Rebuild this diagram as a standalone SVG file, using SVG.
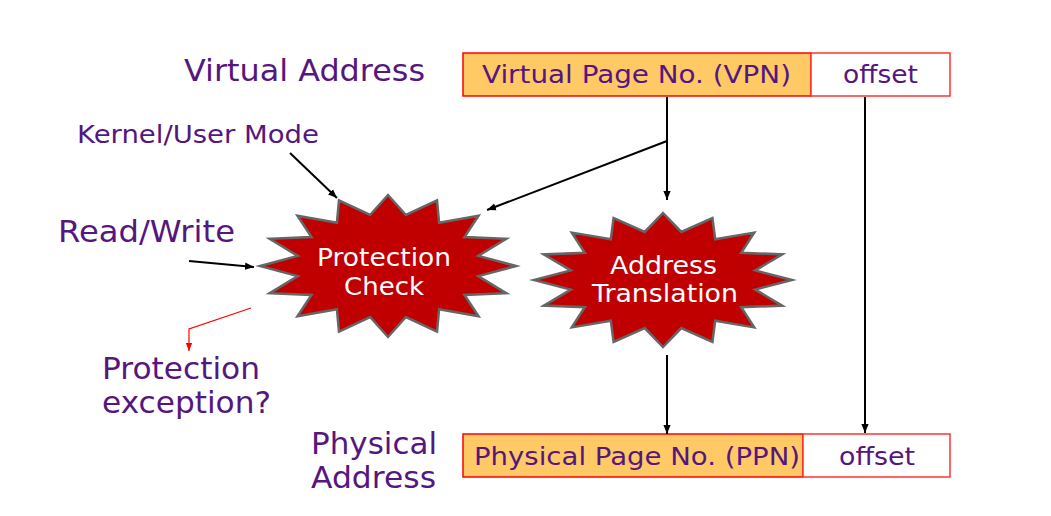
<svg xmlns="http://www.w3.org/2000/svg" width="1051" height="516" viewBox="0 0 1051 516">
<style>
.lbl{font-family:"DejaVu Sans","Liberation Sans",sans-serif;fill:#56167F}
.big{font-size:30px}
.mid{font-size:25px}
.star{fill:#C00000;stroke:#666666;stroke-width:2.5;stroke-linejoin:miter}
.st{font-family:"DejaVu Sans","Liberation Sans",sans-serif;font-size:25px;fill:#FFFFFF}
.bt{font-family:"DejaVu Sans","Liberation Sans",sans-serif;font-size:25px;fill:#56167F}
.ln{stroke:#000;stroke-width:2;fill:none}
.pg{fill:#FFC966;stroke:#FF0000;stroke-width:1.5}
.of{fill:#FFFFFF;stroke:#FF3333;stroke-width:1.5}
</style>
<defs>
<marker id="ah" markerUnits="userSpaceOnUse" markerWidth="9" markerHeight="9" viewBox="0 0 10 10" refX="10" refY="5" orient="auto">
<path d="M0,1 L10,5 L0,9 Z" fill="#000"/>
</marker>
<marker id="ahr" markerUnits="userSpaceOnUse" markerWidth="8" markerHeight="8" viewBox="0 0 10 10" refX="10" refY="5" orient="auto">
<path d="M0,1 L10,5 L0,9 Z" fill="#FF0000"/>
</marker>
</defs>
<rect width="1051" height="516" fill="#FFFFFF"/>

<g id="virtual-address-label"><text class="lbl big" x="184" y="81" textLength="241" lengthAdjust="spacingAndGlyphs">Virtual Address</text></g>
<g id="kernel-user-label"><text class="lbl mid" x="77" y="143" textLength="242" lengthAdjust="spacingAndGlyphs">Kernel/User Mode</text></g>
<g id="read-write-label"><text class="lbl big" x="58" y="242" textLength="177" lengthAdjust="spacingAndGlyphs">Read/Write</text></g>
<g id="protection-exception-label"><text class="lbl big" x="102" y="379" textLength="158" lengthAdjust="spacingAndGlyphs">Protection</text><text class="lbl big" x="102" y="413" textLength="169" lengthAdjust="spacingAndGlyphs">exception?</text></g>
<g id="physical-address-label"><text class="lbl big" x="311" y="454" textLength="126" lengthAdjust="spacingAndGlyphs">Physical</text><text class="lbl big" x="311" y="488" textLength="125" lengthAdjust="spacingAndGlyphs">Address</text></g>

<g id="vpn"><rect class="pg" x="463" y="53" width="348" height="43"/><text class="bt" x="482" y="83" textLength="309" lengthAdjust="spacingAndGlyphs">Virtual Page No. (VPN)</text></g>
<g id="voffset"><rect class="of" x="811" y="53" width="139" height="43"/><text class="bt" x="843" y="83" textLength="75" lengthAdjust="spacingAndGlyphs">offset</text></g>
<g id="ppn"><rect class="pg" x="463" y="434" width="340" height="43"/><text class="bt" x="474" y="465" textLength="326" lengthAdjust="spacingAndGlyphs">Physical Page No. (PPN)</text></g>
<g id="poffset"><rect class="of" x="803" y="434" width="147" height="43"/><text class="bt" x="839" y="465" textLength="76" lengthAdjust="spacingAndGlyphs">offset</text></g>

<g id="protection-check">
<polygon class="star" points="516,266 478.2,255.9 506.3,238.8 464.5,237.1 478.5,215.8 439.1,222.8 437,200.4 405.9,215 388,195 370.1,215 339,200.4 336.9,222.8 297.5,215.8 311.5,237.1 269.7,238.8 297.8,255.9 260,266 297.8,276.1 269.7,293.2 311.5,294.9 297.5,316.2 336.9,309.2 339,331.6 370.1,317 388,337 405.9,317 437,331.6 439.1,309.2 478.5,316.2 464.5,294.9 506.3,293.2 478.2,276.1"/>
<text class="st" x="317" y="266" textLength="134" lengthAdjust="spacingAndGlyphs">Protection</text><text class="st" x="344" y="295" textLength="80" lengthAdjust="spacingAndGlyphs">Check</text>
</g>
<g id="address-translation">
<polygon class="star" points="792,280 755.2,270.4 782.2,254.4 741.2,252.8 754.2,232.6 715.2,239.3 712.4,218.1 681.3,231.9 663,213 644.7,231.9 613.6,218.1 610.8,239.3 571.8,232.6 584.8,252.8 543.8,254.4 570.8,270.4 534,280 570.8,289.6 543.8,305.6 584.8,307.2 571.8,327.4 610.8,320.7 613.6,341.9 644.7,328.1 663,347 681.3,328.1 712.4,341.9 715.2,320.7 754.2,327.4 741.2,307.2 782.2,305.6 755.2,289.6"/>
<text class="st" x="610" y="274" textLength="107" lengthAdjust="spacingAndGlyphs">Address</text><text class="st" x="592" y="302" textLength="146" lengthAdjust="spacingAndGlyphs">Translation</text>
</g>

<g id="connectors">
<line class="ln" x1="667" y1="97" x2="667" y2="200" marker-end="url(#ah)"/>
<line class="ln" x1="667" y1="141" x2="487" y2="210" marker-end="url(#ah)"/>
<line class="ln" x1="865" y1="97" x2="865" y2="433" marker-end="url(#ah)"/>
<line class="ln" x1="667" y1="355" x2="667" y2="434" marker-end="url(#ah)"/>
<line class="ln" x1="290" y1="153" x2="337" y2="198" marker-end="url(#ah)"/>
<line class="ln" x1="189" y1="261" x2="254" y2="267" marker-end="url(#ah)"/>
<polyline points="251,308 189,329 189,351" fill="none" stroke="#FF0000" stroke-width="1.2" marker-end="url(#ahr)"/>
</g>
</svg>
